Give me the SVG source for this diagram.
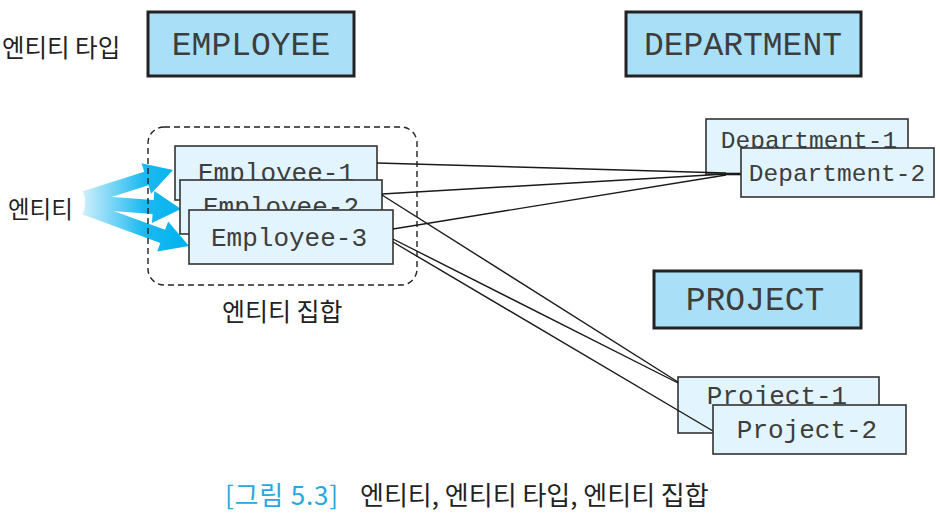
<svg xmlns="http://www.w3.org/2000/svg" width="940" height="520" viewBox="0 0 940 520">
<style>
.type rect{fill:#a9e0f8;stroke:#222;stroke-width:3}
.ent rect{fill:#e2f4fd;stroke:#333;stroke-width:1.6}
.mono{font-family:"Liberation Mono","DejaVu Sans Mono",monospace;fill:#3d3d3d}
.tt{font-size:33px}
.et{font-size:26px}
.dt{font-size:24.5px}
.ko{font-family:"Noto Sans CJK KR","Noto Sans",sans-serif;fill:#222}
.conn line{stroke:#1a1a1a;stroke-width:1.4}
</style>
<defs>
<linearGradient id="ag" gradientUnits="userSpaceOnUse" x1="80" y1="0" x2="185" y2="0">
<stop offset="0" stop-color="#d8f1fc"/>
<stop offset="0.6" stop-color="#1dbaf0"/>
<stop offset="1" stop-color="#00b2ee"/>
</linearGradient>
</defs>
<rect width="940" height="520" fill="#fff"/>

<text class="ko" x="2" y="57" font-size="24.5">엔티티 타입</text>
<text class="ko" x="8" y="218" font-size="23.5">엔티티</text>

<g id="arrows" fill="url(#ag)">
<polygon points="82.9,191.3 144.2,171.8 141.5,163.3 173,170 151.1,193.7 148.4,185.2 87.1,204.7"/>
<polygon points="85.5,195 153.6,200 154.3,191 181,209 151.9,223 152.6,214 84.5,209"/>
<polygon points="87.4,201.4 165.1,229.8 168.2,221.4 189,246 157.2,251.4 160.3,243 82.6,214.6"/>
</g>

<g id="entity-set">
<rect x="148" y="127" width="269" height="158" rx="16" fill="none" stroke="#222" stroke-width="1.4" stroke-dasharray="6,4"/>
<text class="ko" x="222" y="321" font-size="25">엔티티 집합</text>
</g>

<g id="EMPLOYEE" class="type">
<rect x="148" y="12" width="206" height="64"/>
<text class="mono tt" x="251" y="55" text-anchor="middle">EMPLOYEE</text>
</g>
<g id="DEPARTMENT" class="type">
<rect x="626" y="12" width="235" height="64"/>
<text class="mono tt" x="743" y="55" text-anchor="middle">DEPARTMENT</text>
</g>
<g id="PROJECT" class="type">
<rect x="654" y="271" width="207" height="57"/>
<text class="mono tt" x="755" y="310" text-anchor="middle">PROJECT</text>
</g>

<g id="Employee-1" class="ent">
<rect x="175" y="146" width="202" height="54"/>
<text class="mono et" x="276" y="181" text-anchor="middle">Employee-1</text>
</g>
<g id="Employee-2" class="ent">
<rect x="180" y="180" width="202" height="54"/>
<text class="mono et" x="281" y="215" text-anchor="middle">Employee-2</text>
</g>
<g id="Employee-3" class="ent">
<rect x="189" y="210" width="204" height="54"/>
<text class="mono et" x="289" y="246" text-anchor="middle">Employee-3</text>
</g>

<g id="Department-1" class="ent">
<rect x="706" y="119" width="202" height="55"/>
<text class="mono dt" x="809" y="148" text-anchor="middle">Department-1</text>
</g>
<g id="Project-1" class="ent">
<rect x="678" y="377" width="201" height="56"/>
<text class="mono et" x="777" y="404" text-anchor="middle">Project-1</text>
</g>

<g id="connectors" class="conn">
<line x1="377" y1="163" x2="726" y2="173"/>
<line x1="382" y1="194" x2="726" y2="174"/>
<line x1="393" y1="229" x2="726" y2="175"/>
<line x1="726" y1="174" x2="741" y2="174" style="stroke-width:2.6"/>
<line x1="382" y1="195" x2="678" y2="382"/>
<line x1="393" y1="239" x2="678" y2="383"/>
<line x1="393" y1="242" x2="713" y2="431"/>
</g>

<g id="Department-2" class="ent">
<rect x="741" y="148" width="193" height="49"/>
<text class="mono dt" x="837" y="181" text-anchor="middle">Department-2</text>
</g>
<g id="Project-2" class="ent">
<rect x="713" y="405" width="193" height="49"/>
<text class="mono et" x="807" y="438" text-anchor="middle">Project-2</text>
</g>

<g id="caption">
<text class="ko" y="505" font-size="26"><tspan x="225" fill="#27a8e0" textLength="113">[그림 5.3]</tspan><tspan x="360">엔티티, 엔티티 타입, 엔티티 집합</tspan></text>
</g>
</svg>
